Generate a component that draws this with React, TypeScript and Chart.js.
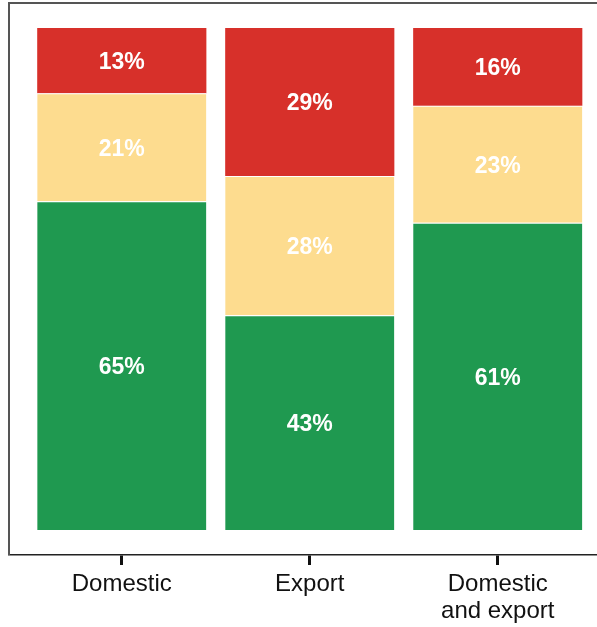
import React, { useEffect, useRef } from "react";
import { Chart, registerables } from "chart.js";

Chart.register(...registerables);

const categories: string[][] = [["Domestic"], ["Export"], ["Domestic", "and export"]];
const positions = [1, 2, 3];
// shares (%)
const greenValues = [65.5, 42.8, 61.2];
const yellowValues = [21.5, 27.7, 23.3];
const redValues = [13.0, 29.5, 15.5];
// printed labels
const greenLabels = ["65%", "43%", "61%"];
const yellowLabels = ["21%", "28%", "23%"];
const redLabels = ["13%", "29%", "16%"];

const FONT = "'Liberation Sans', Arial, Helvetica, sans-serif";

export default function App() {
  const ref = useRef<HTMLCanvasElement | null>(null);
  useEffect(() => {
    if (!ref.current) return;
    const mk = (vals: number[]) => vals.map((v, i) => ({ x: positions[i], y: v }));
    const labelSets = [greenLabels, yellowLabels, redLabels];

    const segLabels = {
      id: "segLabels",
      afterDatasetsDraw(chart: any) {
        const ctx = chart.ctx;
        ctx.save();
        ctx.fillStyle = "#ffffff";
        ctx.font = `bold 23px ${FONT}`;
        ctx.textAlign = "center";
        ctx.textBaseline = "middle";
        chart.data.datasets.forEach((_: any, di: number) => {
          const meta = chart.getDatasetMeta(di);
          meta.data.forEach((el: any, i: number) => {
            const { x, y, base } = el.getProps(["x", "y", "base"], true);
            ctx.fillText(labelSets[di][i], x, (y + base) / 2 + 2);
          });
        });
        ctx.restore();
      },
    };

    const frame = {
      id: "frame",
      afterDraw(chart: any) {
        const { ctx, chartArea } = chart;
        ctx.save();
        ctx.strokeStyle = "#555555";
        ctx.lineWidth = 2;
        ctx.beginPath();
        ctx.moveTo(chartArea.left, chartArea.bottom);
        ctx.lineTo(chartArea.left, chartArea.top);
        ctx.lineTo(chartArea.right + 5, chartArea.top);
        ctx.stroke();
        ctx.restore();
      },
    };

    const chart = new Chart(ref.current, {
      type: "bar",
      data: {
        datasets: [
          { label: "green", data: mk(greenValues), backgroundColor: "#1F9950", borderColor: "#ffffff", borderWidth: { top: 1 } as any, borderSkipped: false },
          { label: "yellow", data: mk(yellowValues), backgroundColor: "#FDDC8F", borderColor: "#ffffff", borderWidth: { top: 1 } as any, borderSkipped: false },
          { label: "red", data: mk(redValues), backgroundColor: "#D7302A", borderColor: "#ffffff", borderWidth: 0 },
        ],
      },
      options: {
        animation: false,
        responsive: false,
        maintainAspectRatio: false,
        layout: { padding: { top: 3, left: 9, right: 0, bottom: 0 } },
        plugins: { legend: { display: false }, tooltip: { enabled: false } },
        datasets: { bar: { barPercentage: 0.9, categoryPercentage: 1 } },
        scales: {
          x: {
            type: "linear",
            stacked: true,
            offset: false,
            min: 0.4,
            max: 3.528,
            afterBuildTicks: (scale: any) => {
              scale.ticks = positions.map((v) => ({ value: v }));
            },
            afterFit: (scale: any) => {
              scale.height = 72;
            },
            ticks: {
              autoSkip: false,
              maxRotation: 0,
              padding: 6,
              color: "#111111",
              font: { family: FONT, size: 24, lineHeight: 1.12 },
              callback: (v: any) => {
                const idx = positions.indexOf(Number(v));
                return idx >= 0 ? categories[idx] : "";
              },
            },
            grid: { offset: false, drawOnChartArea: false, drawTicks: true, tickLength: 10, tickWidth: 3, tickColor: "#111111" },
            border: { display: true, color: "#222222", width: 1.5 },
          },
          y: {
            display: false,
            stacked: true,
            min: -4.98,
            max: 104.98,
          },
        },
      },
      plugins: [segLabels, frame],
    });
    return () => chart.destroy();
  }, []);
  return (
    <div style={{ position: "absolute", left: 0, top: 0, width: 597, height: 627, background: "#fff" }}>
      <canvas ref={ref} width={597} height={627} style={{ display: "block" }} />
    </div>
  );
}
